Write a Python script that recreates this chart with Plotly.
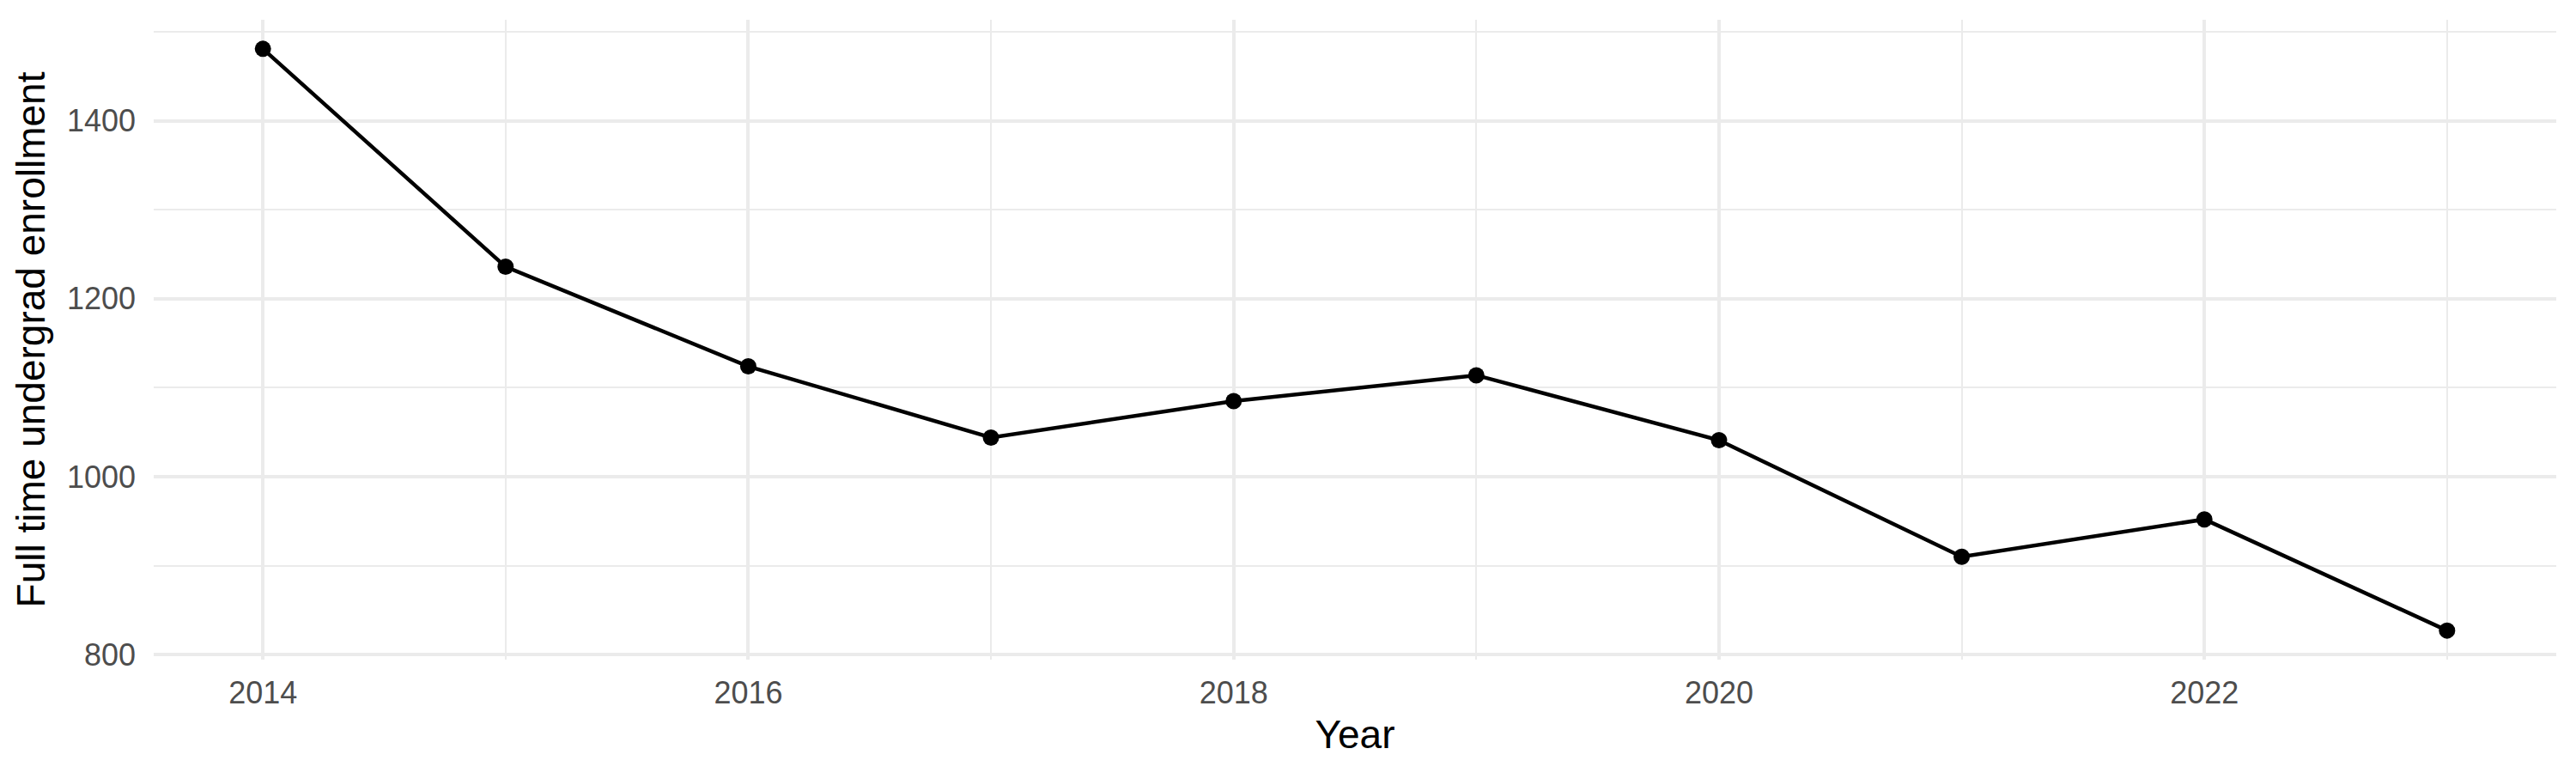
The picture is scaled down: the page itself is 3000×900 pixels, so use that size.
import plotly.graph_objects as go

years = [2014, 2015, 2016, 2017, 2018, 2019, 2020, 2021, 2022, 2023]
enrollment = [1481, 1236, 1124, 1044, 1085, 1114, 1041, 910, 952, 827]

x_ticks = [2014, 2016, 2018, 2020, 2022]
y_ticks = [800, 1000, 1200, 1400]
x_minor = [2015, 2017, 2019, 2021, 2023]
y_minor = [900, 1100, 1300, 1500]

FONT = "Liberation Sans, Arial, Helvetica, sans-serif"
GRID = "#ebebeb"

fig = go.Figure()
fig.add_trace(go.Scatter(
    x=years, y=enrollment, mode="lines+markers",
    line=dict(color="black", width=4.5),
    marker=dict(color="black", size=19),
    showlegend=False,
))

pad_y = (max(enrollment) - min(enrollment)) * 0.05
pad_x = (max(years) - min(years)) * 0.05

# page body has an 8px default margin, so the figure is sized to fit the window
fig.update_layout(
    width=2984, height=884,
    margin=dict(l=171, r=15, t=15, b=124, autoexpand=False),
    paper_bgcolor="white", plot_bgcolor="white",
    font=dict(family=FONT, color="#4d4d4d"),
    xaxis=dict(
        range=[min(years) - pad_x, max(years) + pad_x],
        tickmode="array", tickvals=x_ticks, ticktext=[str(v) for v in x_ticks],
        tickfont=dict(size=36, color="#4d4d4d"),
        showgrid=True, gridcolor=GRID, gridwidth=4.4,
        zeroline=False, showline=False, ticks="",
        ticklabelstandoff=14, automargin=False,
        minor=dict(tickvals=x_minor, showgrid=True,
                   gridcolor=GRID, gridwidth=2.2, ticks=""),
        title=dict(text="Year", font=dict(size=46, color="black"), standoff=12),
    ),
    yaxis=dict(
        range=[min(enrollment) - pad_y, max(enrollment) + pad_y],
        tickmode="array", tickvals=y_ticks, ticktext=[str(v) for v in y_ticks],
        tickfont=dict(size=36, color="#4d4d4d"),
        showgrid=True, gridcolor=GRID, gridwidth=4.4,
        zeroline=False, showline=False, ticks="",
        ticklabelstandoff=20, automargin=False,
        minor=dict(tickvals=y_minor, showgrid=True,
                   gridcolor=GRID, gridwidth=2.2, ticks=""),
        title=dict(text="Full time undergrad enrollment", font=dict(size=46, color="black"), standoff=10),
    ),
)

fig.write_html("out.html")
